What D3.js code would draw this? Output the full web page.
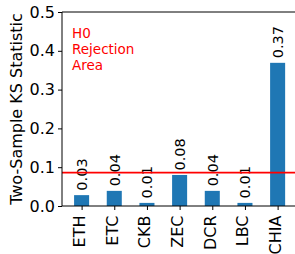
<!DOCTYPE html>
<html><head><meta charset="utf-8">
<script src="https://cdn.jsdelivr.net/npm/d3@7"></script>
<style>body{margin:0;background:#fff}svg{display:block}text{font-family:"DejaVu Sans",sans-serif}</style>
</head><body>
<svg id="c" width="295" height="254"></svg>
<script>
const categories = ["ETH","ETC","CKB","ZEC","DCR","LBC","CHIA"];
const values = [0.028,0.039,0.008,0.080,0.039,0.008,0.369];
const yTicks = [0.0,0.1,0.2,0.3,0.4,0.5];
const threshold = 0.086;
const annotation = ["H0","Rejection","Area"];
const yLabel = "Two-Sample KS Statistic";

const svg = d3.select("#c");
const L = 62, T = 12, B = 206;
const x = d3.scaleLinear().domain([-0.6, 6.6]).range([L, L + 7.2*32.67]);
const y = d3.scaleLinear().domain([0, 0.5]).range([B, T]);
const bw = 0.46;

svg.selectAll("rect.bar").data(values).join("rect")
  .attr("x", (d,i)=>x(i-bw/2)).attr("width", x(bw)-x(0))
  .attr("y", d=>y(d)).attr("height", d=>y(0)-y(d)).attr("fill","#1f77b4");

svg.selectAll("text.val").data(values).join("text")
  .attr("transform",(d,i)=>`translate(${x(i)+5.5},${y(d)-4.5}) rotate(-90)`)
  .attr("font-size",14.5).attr("fill","#000").text(d=>d.toFixed(2));

svg.append("line").attr("x1",L).attr("x2",295).attr("y1",y(threshold)).attr("y2",y(threshold))
  .attr("stroke","#ff0000").attr("stroke-width",1.6);

const yAxis = svg.append("g").attr("transform",`translate(${L},0)`)
  .call(d3.axisLeft(y).tickValues(yTicks).tickFormat(d3.format(".1f")).tickSize(4).tickPadding(3));
yAxis.select(".domain").remove();
yAxis.selectAll("text").attr("font-size",16).attr("font-family","DejaVu Sans").attr("fill","#000");
yAxis.selectAll("line").attr("stroke","#000");

const xAxis = svg.append("g").attr("transform",`translate(0,${B})`)
  .call(d3.axisBottom(x).tickValues(d3.range(categories.length)).tickFormat(i=>categories[i]).tickSize(4).tickPadding(3));
xAxis.select(".domain").remove();
xAxis.selectAll("line").attr("stroke","#000");
xAxis.selectAll("text").attr("font-size",16).attr("font-family","DejaVu Sans").attr("fill","#000")
  .attr("text-anchor","end").attr("dy","0.17em")
  .attr("transform","translate(0,9.5) rotate(-90)").attr("x",0).attr("y",0);

svg.append("path").attr("d",`M${L},${T}V${B}H295M${L},${T}H295`).attr("fill","none")
  .attr("stroke","#000").attr("stroke-width",1);

svg.append("text").attr("x",72).attr("y",38).attr("font-size",13.5).attr("fill","#ff0000")
  .selectAll("tspan").data(annotation).join("tspan").attr("x",72).attr("dy",(d,i)=>i?16:0).text(d=>d);

svg.append("text").attr("transform",`translate(22,${(T+B)/2}) rotate(-90)`)
  .attr("text-anchor","middle").attr("font-size",16).attr("fill","#000").text(yLabel);
</script>
</body></html>
